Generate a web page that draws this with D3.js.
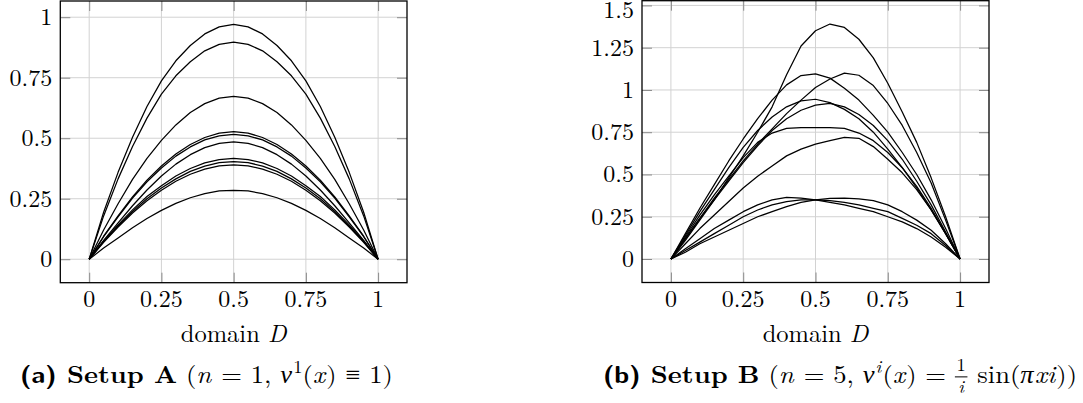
<!DOCTYPE html>
<html>
<head>
<meta charset="utf-8">
<script src="https://cdn.jsdelivr.net/npm/d3@7"></script>
<style>
  body { margin: 0; background: #fff; }
  svg { display: block; }
  text { white-space: pre; }
</style>
</head>
<body>
<svg id="chart" width="1083" height="403"></svg>
<script>
// ------- Data -------
const xs = [0, 0.05, 0.1, 0.15, 0.2, 0.25, 0.3, 0.35, 0.4, 0.45, 0.5,
            0.55, 0.6, 0.65, 0.7, 0.75, 0.8, 0.85, 0.9, 0.95, 1]

// Setup A: ten symmetric profiles
const setupA = [
  [0, .194, .359, .504, .631, .737, .820, .883, .931, .960, .970, .960, .931, .883, .820, .737, .631, .504, .359, .194, 0],
  [0, .179, .332, .466, .583, .682, .758, .816, .861, .888, .897, .888, .861, .816, .758, .682, .583, .466, .332, .179, 0],
  [0, .121, .229, .330, .417, .491, .555, .606, .643, .666, .673, .666, .643, .606, .555, .491, .417, .330, .229, .121, 0],
  [0, .095, .179, .258, .327, .385, .435, .474, .503, .521, .527, .521, .503, .474, .435, .385, .327, .258, .179, .095, 0],
  [0, .093, .175, .253, .320, .377, .426, .464, .493, .510, .516, .510, .493, .464, .426, .377, .320, .253, .175, .093, 0],
  [0, .078, .150, .221, .286, .344, .393, .432, .461, .479, .485, .479, .461, .432, .393, .344, .286, .221, .150, .078, 0],
  [0, .075, .142, .204, .259, .304, .344, .375, .398, .412, .417, .412, .398, .375, .344, .304, .259, .204, .142, .075, 0],
  [0, .073, .137, .197, .250, .294, .332, .363, .385, .399, .403, .399, .385, .363, .332, .294, .250, .197, .137, .073, 0],
  [0, .070, .133, .191, .242, .285, .322, .351, .372, .386, .390, .386, .372, .351, .322, .285, .242, .191, .133, .070, 0],
  [0, .046, .088, .130, .168, .202, .231, .254, .271, .282, .285, .282, .271, .254, .231, .202, .168, .130, .088, .046, 0]
]

// Setup B: ten asymmetric profiles
const setupB = [
  [0, .11, .23, .35, .48, .61, .75, .90, 1.09, 1.26, 1.35, 1.39, 1.37, 1.30, 1.19, 1.04, .87, .69, .48, .25, 0],
  [0, .15, .30, .44, .58, .71, .83, .94, 1.03, 1.085, 1.095, 1.07, 1.01, .94, .85, .75, .63, .50, .35, .18, 0],
  [0, .12, .24, .36, .47, .58, .68, .77, .86, .94, 1.015, 1.065, 1.10, 1.087, 1.026, .92, .79, .63, .45, .23, 0],
  [0, .14, .28, .41, .54, .66, .76, .84, .90, .935, .945, .925, .885, .83, .75, .65, .54, .42, .29, .15, 0],
  [0, .12, .24, .35, .46, .57, .67, .76, .83, .88, .91, .921, .90, .855, .79, .70, .59, .46, .32, .16, 0],
  [0, .13, .26, .38, .49, .60, .69, .745, .773, .777, .777, .777, .773, .745, .70, .63, .54, .43, .30, .15, 0],
  [0, .09, .18, .26, .34, .42, .49, .55, .61, .65, .68, .70, .72, .714, .665, .59, .51, .41, .29, .15, 0],
  [0, .06, .12, .18, .23, .28, .32, .35, .365, .36, .35, .335, .32, .30, .28, .25, .22, .18, .13, .07, 0],
  [0, .05, .10, .15, .20, .25, .29, .32, .34, .35, .35, .345, .335, .32, .30, .28, .24, .20, .15, .08, 0],
  [0, .04, .09, .13, .17, .21, .25, .28, .31, .335, .35, .358, .36, .355, .345, .32, .28, .23, .17, .09, 0]
]

const xTicks = [0, 0.25, 0.5, 0.75, 1]
const yTicksA = [0, 0.25, 0.5, 0.75, 1]
const yTicksB = [0, 0.25, 0.5, 0.75, 1, 1.25, 1.5]
const xLabel = ['domain ', 'D']

const serif = "'Latin Modern Roman', 'Liberation Serif', serif"
const sans = "'Latin Modern Sans', 'Liberation Sans', sans-serif"
const greek = "'Liberation Serif', serif"   // LM Roman has no Greek / ≡

let svg = d3.select('#chart')

function fmt(v){ return String(v) }

// ------- One pgfplots-style panel -------
function drawPanel(opts){
  let g = svg.append('g')
  let x = d3.scaleLinear().domain([-0.1, 1.1]).range([opts.left, opts.right])
  let y = d3.scaleLinear().domain(opts.yDomain).range([opts.bottom, opts.top])

  // grid
  g.selectAll('.gx').data(xTicks).enter().append('line')
    .attr('x1', d => x(d)).attr('x2', d => x(d))
    .attr('y1', opts.top).attr('y2', opts.bottom)
    .attr('stroke', '#d2d2d2').attr('stroke-width', 1)
  g.selectAll('.gy').data(opts.yTicks).enter().append('line')
    .attr('y1', d => y(d)).attr('y2', d => y(d))
    .attr('x1', opts.left).attr('x2', opts.right)
    .attr('stroke', '#d2d2d2').attr('stroke-width', 1)

  // tick marks on all four sides
  const tl = 10
  let axB = d3.axisBottom(x).tickValues(xTicks).tickSize(tl).tickFormat('')
  let axT = d3.axisTop(x).tickValues(xTicks).tickSize(tl).tickFormat('')
  let axL = d3.axisLeft(y).tickValues(opts.yTicks).tickSize(tl).tickFormat('')
  let axR = d3.axisRight(y).tickValues(opts.yTicks).tickSize(tl).tickFormat('')
  g.append('g').attr('transform', `translate(0,${opts.bottom - tl})`).call(axB)
  g.append('g').attr('transform', `translate(0,${opts.top + tl})`).call(axT)
  g.append('g').attr('transform', `translate(${opts.left + tl},0)`).call(axL)
  g.append('g').attr('transform', `translate(${opts.right - tl},0)`).call(axR)
  g.selectAll('.domain').remove()
  g.selectAll('.tick line').attr('stroke', '#8a8a8a').attr('stroke-width', 1)

  // curves
  let line = d3.line().x((d, i) => x(xs[i])).y(d => y(d))
  g.selectAll('.curve').data(opts.data).enter().append('path')
    .attr('d', line)
    .attr('fill', 'none')
    .attr('stroke', '#000')
    .attr('stroke-width', 1.25)
    .attr('stroke-linejoin', 'round')

  // frame
  g.append('rect')
    .attr('x', opts.left).attr('y', opts.top)
    .attr('width', opts.right - opts.left).attr('height', opts.bottom - opts.top)
    .attr('fill', 'none').attr('stroke', '#000').attr('stroke-width', 1.3)

  // tick labels
  g.selectAll('.xl').data(xTicks).enter().append('text')
    .attr('x', d => x(d)).attr('y', opts.bottom + 24.5)
    .attr('text-anchor', 'middle')
    .style('font-family', serif).style('font-size', '24px')
    .text(fmt)
  g.selectAll('.yl').data(opts.yTicks).enter().append('text')
    .attr('x', opts.left - 8).attr('y', d => Math.max(y(d) + 8, 18))
    .attr('text-anchor', 'end')
    .style('font-family', serif).style('font-size', '24px')
    .text(fmt)

  // axis label
  let lab = g.append('text')
    .attr('x', (opts.left + opts.right) / 2).attr('y', 342)
    .attr('text-anchor', 'middle')
    .style('font-family', serif).style('font-size', '24.5px')
  lab.append('tspan').text(xLabel[0])
  lab.append('tspan').style('font-style', 'italic').text(xLabel[1])
}

// ------- Caption made of pieces, fitted to the measured span -------
function caption(parts, x0, x1, base){
  const size = 24.5
  let g = svg.append('g')
  let cx = 0
  function piece(t, o){
    return g.append('text')
      .attr('x', cx).attr('y', o.dy || 0)
      .style('font-family', o.sans ? sans : (o.greek ? greek : serif))
      .style('font-size', (o.size || size) + 'px')
      .style('font-weight', o.bold ? 'bold' : 'normal')
      .style('font-style', o.it ? 'italic' : 'normal')
      .text(t)
  }
  parts.forEach(p => {
    if (p.frac){
      let fs = size * 0.7
      let num = piece(p.frac[0], {size: fs, dy: -size * 0.47})
      let den = piece(p.frac[1], {size: fs, dy: size * 0.4, it: true})
      let wn = num.node().getComputedTextLength()
      let wd = den.node().getComputedTextLength()
      let w = Math.max(wn, wd) + 3
      num.attr('x', cx + (w - wn) / 2)
      den.attr('x', cx + (w - wd) / 2)
      g.append('line').attr('x1', cx).attr('x2', cx + w)
        .attr('y1', -size * 0.25).attr('y2', -size * 0.25)
        .attr('stroke', '#000').attr('stroke-width', 1)
      cx += w + 1
    } else {
      let o = Object.assign({}, p)
      if (p.sup){ o.size = size * 0.7; o.dy = -size * 0.4 }
      let el = piece(p.t, o)
      cx += el.node().getComputedTextLength() + (p.it ? 1 : 0)
    }
  })
  let k = (x1 - x0) / cx
  g.attr('transform', `translate(${x0},${base}) scale(${k},1)`)
}

drawPanel({left: 60.3, right: 407, top: 1, bottom: 282.7,
           yDomain: [-0.097, 1.067], yTicks: yTicksA, data: setupA})
drawPanel({left: 642, right: 989, top: 0.7, bottom: 282.5,
           yDomain: [-0.139, 1.528], yTicks: yTicksB, data: setupB})

caption([
  {t: '(a)', sans: true, bold: true},
  {t: ' Setup A', bold: true},
  {t: ' ('}, {t: 'n', it: true}, {t: ' = 1, '},
  {t: 'ν', it: true, greek: true}, {t: '1', sup: true},
  {t: '('}, {t: 'x', it: true}, {t: ') '}, {t: '≡', greek: true}, {t: ' 1)'}
], 20, 393, 383)

caption([
  {t: '(b)', sans: true, bold: true},
  {t: ' Setup B', bold: true},
  {t: ' ('}, {t: 'n', it: true}, {t: ' = 5, '},
  {t: 'ν', it: true, greek: true}, {t: 'i', sup: true, it: true},
  {t: '('}, {t: 'x', it: true}, {t: ') = '},
  {frac: ['1', 'i']},
  {t: ' sin('}, {t: 'π', it: true, greek: true}, {t: 'xi', it: true}, {t: '))'}
], 603, 1077, 383)
</script>
</body>
</html>
